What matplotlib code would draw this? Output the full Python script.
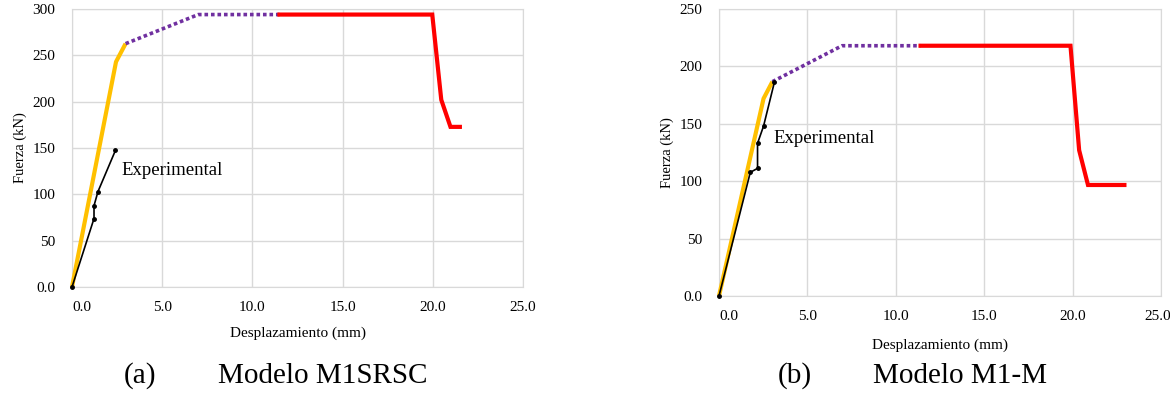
import matplotlib.pyplot as plt
import matplotlib.transforms as mtransforms

plt.rcParams['font.family'] = ['Liberation Serif', 'DejaVu Serif']

# ---- Modelo M1SRSC (a)
a_elastic_x = [0.0, 2.44, 2.97]
a_elastic_y = [0.0, 243.0, 262.6]
a_plastic_x = [2.97, 7.0, 11.5]
a_plastic_y = [262.6, 294.0, 294.0]
a_failure_x = [11.5, 19.97, 20.47, 20.98, 21.5]
a_failure_y = [294.0, 294.0, 202.0, 172.8, 172.8]
a_exp_x = [0.0, 1.22, 1.22, 1.44, 2.41]
a_exp_y = [0.0, 73.9, 87.7, 103.0, 147.5]

# ---- Modelo M1-M (b)
b_elastic_x = [0.0, 2.52, 3.02]
b_elastic_y = [0.0, 172.0, 186.7]
b_plastic_x = [3.02, 6.96, 11.4]
b_plastic_y = [186.7, 218.0, 218.0]
b_failure_x = [11.4, 19.88, 20.37, 20.87, 22.93]
b_failure_y = [218.0, 218.0, 127.0, 96.7, 96.7]
b_exp_x = [0.0, 1.77, 2.18, 2.18, 2.52, 3.13]
b_exp_y = [0.0, 107.7, 111.2, 133.0, 148.0, 186.0]

x_ticks = [0, 5, 10, 15, 20, 25]
x_labels = ['0.0', '5.0', '10.0', '15.0', '20.0', '25.0']
a_y_ticks = [0, 50, 100, 150, 200, 250, 300]
a_y_labels = ['0.0', '50', '100', '150', '200', '250', '300']
b_y_ticks = [0, 50, 100, 150, 200, 250]
b_y_labels = ['0.0', '50', '100', '150', '200', '250']

fig = plt.figure(figsize=(11.7, 3.98), dpi=100)
ax_a = fig.add_axes([72 / 1170, 1 - 287 / 398, 451 / 1170, 278 / 398])
ax_b = fig.add_axes([719 / 1170, 1 - 296 / 398, 442 / 1170, 287 / 398])


def shift_label(ax, idx, dx_px):
    lbl = ax.get_xticklabels()[idx]
    lbl.set_transform(lbl.get_transform() + mtransforms.ScaledTranslation(dx_px / 100, 0, fig.dpi_scale_trans))


def draw(ax, el, pl, fa, ex, yticks, ylabels, ymax, label_pos, xlabelpad):
    ax.plot(el[0], el[1], color='#FFC000', lw=3.0, solid_capstyle='butt', zorder=3, clip_on=False)
    ax.plot(pl[0], pl[1], color='#7030A0', lw=2.6, linestyle=(0, (1, 0.8)), zorder=3)
    ax.plot(fa[0], fa[1], color='#FF0000', lw=3.0, solid_joinstyle='miter', zorder=3)
    ax.plot(ex[0], ex[1], color='black', lw=1.2, marker='o', markersize=2.5, zorder=4, clip_on=False)
    ax.text(label_pos[0], label_pos[1], 'Experimental', fontsize=13.5, va='center', ha='left')
    ax.set_xlim(0, 25)
    ax.set_ylim(0, ymax)
    ax.set_xticks(x_ticks)
    ax.set_xticklabels(x_labels)
    ax.set_yticks(yticks)
    ax.set_yticklabels(ylabels)
    ax.grid(True, color='#d9d9d9', lw=1.0)
    ax.set_axisbelow(True)
    for s in ax.spines.values():
        s.set_color('#d9d9d9')
    ax.tick_params(length=0, labelsize=11, pad=10)
    ax.tick_params(axis='y', pad=12)
    # first x tick label sits a bit to the right, as in the original
    shift_label(ax, 0, 10)
    ax.set_ylabel('Fuerza (kN)', fontsize=10.5)
    ax.set_xlabel('Desplazamiento (mm)', fontsize=11, labelpad=xlabelpad)


draw(ax_a, (a_elastic_x, a_elastic_y), (a_plastic_x, a_plastic_y), (a_failure_x, a_failure_y),
     (a_exp_x, a_exp_y), a_y_ticks, a_y_labels, 300, (2.75, 126), 9)
draw(ax_b, (b_elastic_x, b_elastic_y), (b_plastic_x, b_plastic_y), (b_failure_x, b_failure_y),
     (b_exp_x, b_exp_y), b_y_ticks, b_y_labels, 250, (3.1, 137), 11)
shift_label(ax_b, 5, -3)

fig.text(140 / 1170, 1 - 376 / 398, '(a)', fontsize=21, ha='center', va='center')
fig.text(218 / 1170, 1 - 376 / 398, 'Modelo M1SRSC', fontsize=21, ha='left', va='center')
fig.text(795 / 1170, 1 - 376 / 398, '(b)', fontsize=21, ha='center', va='center')
fig.text(873 / 1170, 1 - 376 / 398, 'Modelo M1-M', fontsize=21, ha='left', va='center')

fig.savefig('out.png', dpi=100)
